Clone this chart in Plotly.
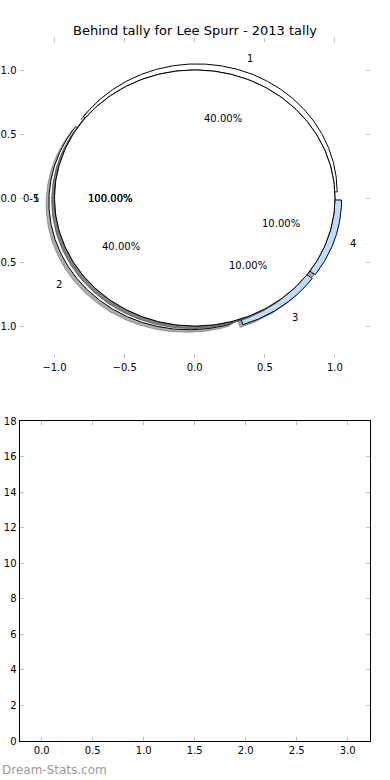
import numpy as np
import plotly.graph_objects as go

# ---------------- data ----------------
title_text = "Behind tally for Lee Spurr - 2013 tally"
slice_labels = ["1", "2", "3", "4"]
slice_values = [40, 40, 10, 10]
slice_colors = ["#ffffff", "#ffffff", "#bedcff", "#bedcff"]
slice_explode = [0.05, 0.05, 0.05, 0.05]

full_labels = ["0-5", "1"]          # two single-slice pies drawn over the first one
full_values = [100, 100]

pie_ticks = [-1.0, -0.5, 0.0, 0.5, 1.0]
bar_x_ticks = [0.0, 0.5, 1.0, 1.5, 2.0, 2.5, 3.0]
bar_y_ticks = [0, 2, 4, 6, 8, 10, 12, 14, 16, 18]
watermark = "Dream-Stats.com"

# ---------------- helpers ----------------
FONT = "DejaVu Sans"
SHADOW_OFF = -0.02


def wedge_xy(cx, cy, r, t1, t2):
    th = np.radians(np.linspace(t1, t2, 240))
    xs = cx + r * np.cos(th)
    ys = cy + r * np.sin(th)
    if abs(t2 - t1) >= 359.999:
        return list(xs), list(ys)
    return [cx] + list(xs) + [cx], [cy] + list(ys) + [cy]


def hex_rgb(h):
    h = h.lstrip("#")
    return tuple(int(h[i:i + 2], 16) for i in (0, 2, 4))


def shadow_col(h):
    r, g, b = hex_rgb(h)
    return "rgba(%d,%d,%d,0.45)" % (0.3 * r, 0.3 * g, 0.3 * b)


fig = go.Figure()
annots = []

# first pie: four exploded slices with shadows
total = float(sum(slice_values))
theta = 0.0
for lab, val, col, ex in zip(slice_labels, slice_values, slice_colors, slice_explode):
    frac = val / total
    t1, t2 = theta, theta + 360.0 * frac
    tm = np.radians((t1 + t2) / 2.0)
    cx, cy = ex * np.cos(tm), ex * np.sin(tm)
    xs, ys = wedge_xy(cx + SHADOW_OFF, cy + SHADOW_OFF, 1.0, t1, t2)
    fig.add_trace(go.Scatter(x=xs, y=ys, mode="lines", fill="toself",
                             fillcolor=shadow_col(col),
                             line=dict(color=shadow_col(col), width=1),
                             hoverinfo="skip", showlegend=False))
    xs, ys = wedge_xy(cx, cy, 1.0, t1, t2)
    fig.add_trace(go.Scatter(x=xs, y=ys, mode="lines", fill="toself",
                             fillcolor=col, line=dict(color="black", width=1),
                             hoverinfo="skip", showlegend=False))
    xt, yt = cx + 1.1 * np.cos(tm), cy + 1.1 * np.sin(tm)
    annots.append(dict(x=xt, y=yt, xref="x", yref="y", text=lab, showarrow=False,
                       xanchor="left" if xt > 0 else "right", yanchor="middle",
                       font=dict(family=FONT, size=10, color="black")))
    xp, yp = cx + 0.6 * np.cos(tm), cy + 0.6 * np.sin(tm)
    annots.append(dict(x=xp, y=yp, xref="x", yref="y", text="%.2f%%" % (100 * frac),
                       showarrow=False, xanchor="center", yanchor="middle",
                       font=dict(family=FONT, size=10, color="black")))
    theta = t2

# full-circle pies drawn on top
for lab, val in zip(full_labels, full_values):
    frac = val / float(sum([val]))
    t1, t2 = 0.0, 360.0 * frac
    tm = np.radians((t1 + t2) / 2.0)
    xs, ys = wedge_xy(SHADOW_OFF, SHADOW_OFF, 1.0, t1, t2)
    fig.add_trace(go.Scatter(x=xs, y=ys, mode="lines", fill="toself",
                             fillcolor=shadow_col("#ffffff"),
                             line=dict(color=shadow_col("#ffffff"), width=1),
                             hoverinfo="skip", showlegend=False))
    xs, ys = wedge_xy(0, 0, 1.0, t1, t2)
    fig.add_trace(go.Scatter(x=xs, y=ys, mode="lines", fill="toself",
                             fillcolor="#ffffff", line=dict(color="black", width=1),
                             hoverinfo="skip", showlegend=False))
    xt, yt = 1.1 * np.cos(tm), 1.1 * np.sin(tm)
    annots.append(dict(x=xt, y=yt, xref="x", yref="y", text=lab, showarrow=False,
                       xanchor="left" if xt > 0 else "right", yanchor="middle",
                       font=dict(family=FONT, size=10, color="black")))
    xp, yp = 0.6 * np.cos(tm), 0.6 * np.sin(tm)
    annots.append(dict(x=xp, y=yp, xref="x", yref="y", text="%.2f%%" % (100 * frac),
                       showarrow=False, xanchor="center", yanchor="middle",
                       font=dict(family=FONT, size=10, color="black")))

# empty lower axes
fig.add_trace(go.Scatter(x=[], y=[], xaxis="x2", yaxis="y2", showlegend=False))

annots.append(dict(x=0, y=1 - 770 / 780, xref="paper", yref="paper", text=watermark,
                   showarrow=False, xanchor="left", yanchor="middle",
                   font=dict(family=FONT, size=12, color="#999999")))

W, H = 390, 780
xdom = [19.5 / W, 370 / W]
tick_common = dict(ticks="inside", ticklen=4, tickwidth=1, tickcolor="#bfbfbf",
                   showgrid=False, zeroline=False, automargin=False,
                   tickfont=dict(family=FONT, size=10, color="black"))

fig.update_layout(
    width=W, height=H, autosize=False,
    margin=dict(l=0, r=0, t=0, b=0, pad=0),
    paper_bgcolor="white", plot_bgcolor="white",
    showlegend=False,
    title=dict(text=title_text, x=0.5, xanchor="center", y=1 - 30 / H, yanchor="middle",
               automargin=False, font=dict(family=FONT, size=13, color="black")),
    xaxis=dict(domain=xdom, anchor="y", range=[-1.25, 1.25], tickvals=pie_ticks,
               tickformat=".1f", showline=True, linecolor="rgba(0,0,0,0)", mirror="ticks",
               **tick_common),
    yaxis=dict(domain=[1 - 358 / H, 1 - 38 / H], anchor="x", range=[-1.25, 1.25],
               tickvals=pie_ticks, tickformat=".1f", showline=True,
               linecolor="rgba(0,0,0,0)", mirror="ticks", **tick_common),
    xaxis2=dict(domain=xdom, anchor="y2", range=[-0.218, 3.218], tickvals=bar_x_ticks,
                tickformat=".1f", showline=True, linecolor="black", linewidth=1,
                mirror="ticks", **tick_common),
    yaxis2=dict(domain=[1 - 741 / H, 1 - 421 / H], anchor="x2", range=[0, 18],
                tickvals=bar_y_ticks, showline=True, linecolor="black", linewidth=1,
                mirror="ticks", **tick_common),
    annotations=annots,
)

fig.write_html("out.html", config={"displayModeBar": False},
               post_script="document.body.style.margin='0';document.body.style.padding='0';")
